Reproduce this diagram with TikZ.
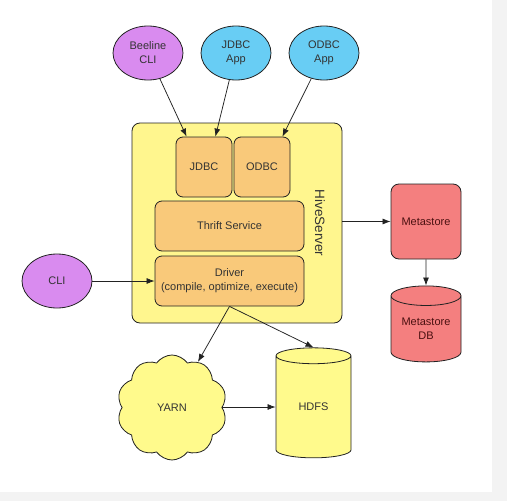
\documentclass[tikz,border=0pt]{standalone}
\usepackage{fontspec}
\setmainfont{Liberation Sans}
\usetikzlibrary{shapes.geometric,shapes.symbols,arrows.meta}
\definecolor{bggray}{HTML}{F3F3F3}
\definecolor{hiveY}{HTML}{FFF68E}
\definecolor{orangeC}{HTML}{F9C97A}
\definecolor{purpleC}{HTML}{D98BEF}
\definecolor{blueC}{HTML}{68CDF4}
\definecolor{redC}{HTML}{F47F7F}
\definecolor{cloudY}{HTML}{FFFA8C}
\definecolor{linec}{HTML}{222222}
\definecolor{textc}{HTML}{333333}
\definecolor{redtext}{HTML}{4A1010}
\begin{document}
\begin{tikzpicture}[x=1pt,y=-1pt,
  base/.style={draw=linec, line width=0.8pt, inner sep=0pt, align=center,
    font=\fontsize{11}{14}\selectfont, text=textc},
  ell/.style={base, ellipse, minimum width=70pt, minimum height=54pt},
  userell/.style={ell, fill=purpleC},
  appell/.style={ell, fill=blueC},
  inbox/.style={base, rounded corners=7pt, fill=orangeC},
  hivebox/.style={base, rounded corners=8pt, fill=hiveY},
  redbox/.style={base, rounded corners=8pt, fill=redC, text=redtext},
  dbcyl/.style={base, cylinder, shape border rotate=90},
  arr/.style={draw=linec, line width=0.75pt, -{Latex[length=8pt,width=6pt]}},
  rarr/.style={draw=linec, line width=0.75pt, {Latex[length=8pt,width=6pt]}-}
]
\fill[bggray] (0,0) rectangle (507,501);
\fill[white] (0,0) rectangle (492,492);
\useasboundingbox (0,0) rectangle (507,501);

% HiveServer
\node[hivebox, minimum width=210pt, minimum height=200pt] (hive) at (237,223) {};
\node[inbox, minimum width=56pt, minimum height=60pt] (jdbc) at (204,167) {JDBC};
\node[inbox, minimum width=56pt, minimum height=60pt] (odbc) at (262,167) {ODBC};
\node[inbox, minimum width=149pt, minimum height=50pt] (thrift) at (229.5,226) {Thrift Service};
\node[inbox, minimum width=149pt, minimum height=50pt] (driver) at (229.5,281) {Driver\\(compile, optimize, execute)};
\node[rotate=-90, font=\fontsize{13.5}{16}\selectfont, text=textc] (hslabel) at (320,223) {HiveServer};

% clients
\node[userell] (beeline) at (148,53) {Beeline\\CLI};
\node[appell] (jdbcapp) at (236,53) {JDBC\\App};
\node[appell] (odbcapp) at (324,53) {ODBC\\App};
\node[userell] (cli) at (57,281) {CLI};

% metastore
\node[redbox, minimum width=70pt, minimum height=75pt] (meta) at (426,221.5) {Metastore};
\node[dbcyl, aspect=0.4, fill=redC, text=redtext, minimum width=70pt, minimum height=76pt] (metadb) at (426,329) {Metastore\\DB};

% yarn / hdfs
\node[base, cloud, cloud puffs=10, cloud puff arc=110, aspect=1, fill=cloudY,
  minimum width=110pt, minimum height=105pt] (yarn) at (172,407.5) {YARN};
\node[dbcyl, aspect=0.53, fill=cloudY, minimum width=75pt, minimum height=110pt] (hdfs) at (313.5,407) {HDFS};

% connectors
\draw[rarr] ([xshift=11pt]jdbc.north west) -- (beeline);
\draw[rarr] ([xshift=-17pt]jdbc.north east) -- (jdbcapp);
\draw[rarr] ([xshift=-8pt]odbc.north east) -- (odbcapp);
\draw[arr] (cli) -- (driver.west);
\draw[arr] (hive.east |- meta.west) -- (meta.west);
\draw[arr] (meta.south) -- (metadb.north);
\draw[arr] (driver.south) -- (yarn);
\draw[arr] (driver.south) -- (hdfs.north);
\draw[arr] (yarn.east |- hdfs.west) -- (hdfs.west);
\end{tikzpicture}
\end{document}
